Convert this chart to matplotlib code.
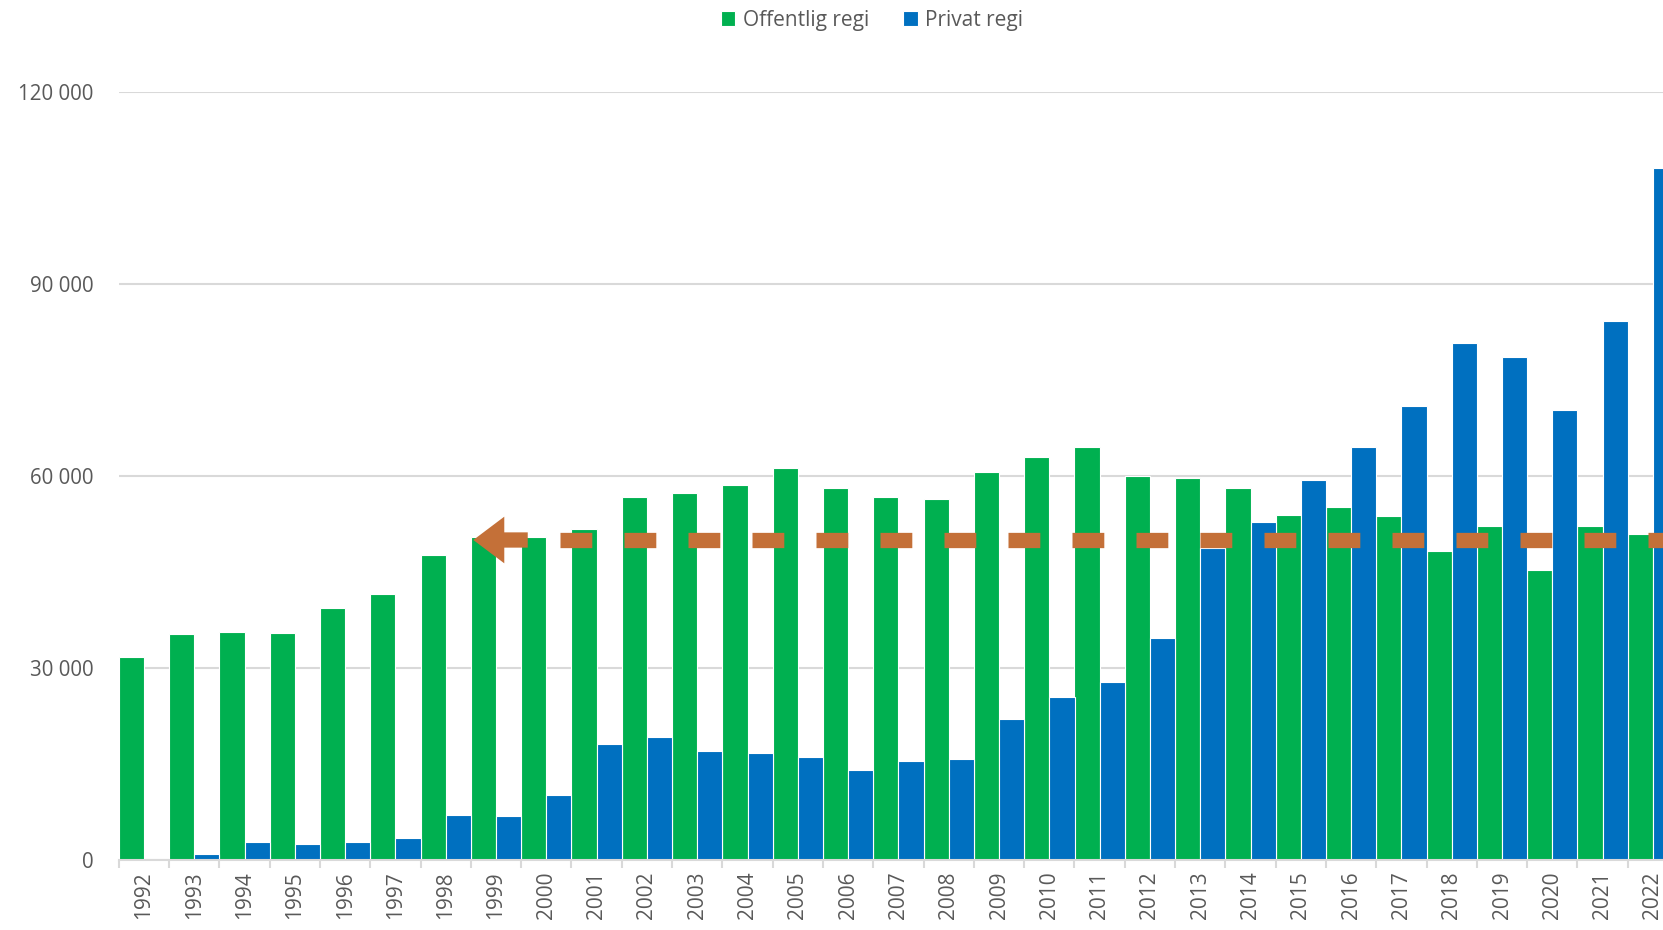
import matplotlib
matplotlib.use("Agg")
import matplotlib.pyplot as plt
from matplotlib.ticker import FuncFormatter, FixedLocator
import numpy as np

years = list(range(1992, 2023))
offentlig = [31700, 35300, 35600, 35500, 39300, 41600, 47600, 50500, 50400, 51700,
             56750, 57330, 58640, 61300, 58140, 56650, 56330, 60630, 62950, 64600,
             59970, 59640, 58140, 53830, 55170, 53770, 48310, 52210, 45250, 52110, 50860]
privat = [0, 1000, 2820, 2490, 2820, 3480, 6960, 6800, 10110, 18070,
          19230, 17070, 16740, 16080, 14090, 15410, 15750, 22040, 25520, 27850,
          34640, 48750, 52870, 59330, 64480, 70870, 80800, 78620, 70300, 84180, 108190]
series_names = ["Offentlig regi", "Privat regi"]
ref_value = 50000
arrow_year = 1999

GREEN = "#00B050"
BLUE = "#0070C0"
ORANGE = "#C47038"
GRID = "#D9D9D9"
TEXT = "#595959"

plt.rcParams['font.family'] = ['Open Sans', 'DejaVu Sans']

W, H = 1663, 930
fig = plt.figure(figsize=(W / 100, H / 100), dpi=100)
left_px, bottom_px, top_px = 118.8, 860.0, 92.0
cat_w = 50.3
ax = fig.add_axes([left_px / W, 1 - bottom_px / H,
                   len(years) * cat_w / W, (bottom_px - top_px) / H])

x = np.arange(len(years))
ax.bar(x - 0.25, offentlig, width=0.5, color=GREEN, edgecolor="white",
       linewidth=0.8, label=series_names[0], zorder=2)
ax.bar(x + 0.25, privat, width=0.5, color=BLUE, edgecolor="white",
       linewidth=0.8, label=series_names[1], zorder=2)

ax.set_xlim(-0.5, len(years) - 0.5)
ax.set_ylim(0, 120000)

ax.set_yticks([0, 30000, 60000, 90000, 120000])
ax.yaxis.set_major_formatter(FuncFormatter(lambda v, p: f"{int(v):,}".replace(",", " ")))
ax.grid(axis="y", color=GRID, linewidth=1.5, zorder=0)
ax.set_axisbelow(True)
for s in ["left", "right", "top"]:
    ax.spines[s].set_visible(False)
ax.spines["bottom"].set_color(GRID)
ax.spines["bottom"].set_linewidth(1.5)
ax.tick_params(axis="y", length=0, pad=18, labelsize=14.8, labelcolor=TEXT)

ax.set_xticks(x)
ax.set_xticklabels([str(y) for y in years], rotation=90)
ax.tick_params(axis="x", which="major", length=0, pad=8.0, labelsize=15, labelcolor=TEXT)
ax.xaxis.set_minor_locator(FixedLocator(np.arange(-0.5, len(years), 1.0)))
ax.tick_params(axis="x", which="minor", length=6, width=1.5, color=GRID)

# reference dashed line with arrow
ai = years.index(arrow_year)
tip_x = ai - 0.452
shaft_end = ai + 0.63
lw_pt = 11
dash_pt = 31.8 * 0.72
gap_pt = 32.2 * 0.72
ax.plot([ai + 1.27, len(years) + 1], [ref_value, ref_value], color=ORANGE,
        linewidth=lw_pt, solid_capstyle="butt", dash_capstyle="butt",
        linestyle=(0, (dash_pt / lw_pt, gap_pt / lw_pt)), zorder=4, clip_on=False)
ax.annotate("", xy=(tip_x, ref_value), xytext=(shaft_end, ref_value),
            arrowprops=dict(arrowstyle="simple,head_length=22.3,head_width=33.6,tail_width=11",
                            mutation_scale=1, color=ORANGE, lw=0,
                            shrinkA=0, shrinkB=0), zorder=4)

leg = fig.legend(loc="center", bbox_to_anchor=(0.5243, 0.978), ncol=2, frameon=False,
                 fontsize=15, handlelength=0.7, handleheight=0.7, handletextpad=0.35,
                 columnspacing=1.65, labelcolor=TEXT)

fig.savefig("out.png", dpi=100)
